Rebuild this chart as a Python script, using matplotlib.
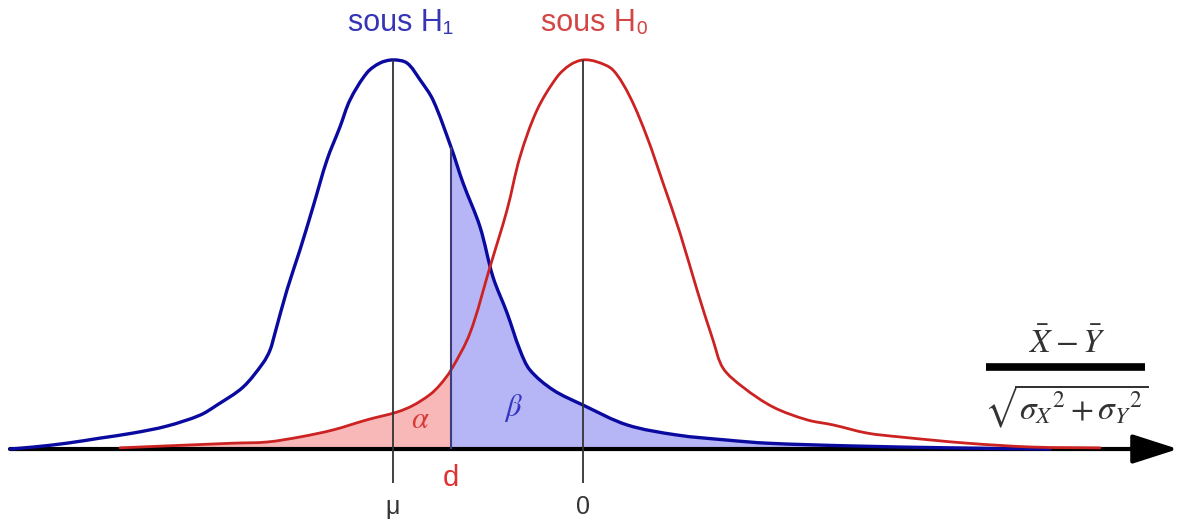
import matplotlib
matplotlib.use("Agg")
import matplotlib.pyplot as plt
import numpy as np
from matplotlib.patches import PathPatch
from matplotlib.path import Path

# curve under H1 (blue): x in test-statistic units, y as height (peak = 1)
blue_x = [-5.73, -5.50, -5.16, -4.83, -4.50, -4.16, -3.83, -3.66, -3.40, -3.20,
          -3.13, -3.08, -2.96, -2.83, -2.70, -2.56, -2.43, -2.33, -2.16, -2.03,
          -1.90, -1.76, -1.63, -1.50, -1.32, -1.20, -1.03, -0.90, -0.76, -0.63,
          -0.53, -0.30, 0.00, 0.44, 0.94, 1.44, 1.84, 2.67, 3.67, 4.67]
blue_y = [0.000, 0.005, 0.015, 0.028, 0.041, 0.059, 0.087, 0.113, 0.159, 0.221,
          0.254, 0.298, 0.409, 0.512, 0.622, 0.743, 0.828, 0.897, 0.967, 0.992,
          1.000, 0.992, 0.949, 0.897, 0.776, 0.684, 0.571, 0.442, 0.350, 0.254,
          0.203, 0.152, 0.113, 0.062, 0.036, 0.023, 0.015, 0.008, 0.003, 0.000]

# curve under H0 (red)
red_x = [-4.63, -3.50, -3.16, -2.83, -2.50, -2.16, -1.86, -1.70, -1.53, -1.43,
         -1.32, -1.13, -0.93, -0.76, -0.63, -0.46, -0.26, -0.13, 0.00, 0.14,
         0.30, 0.47, 0.64, 0.80, 0.97, 1.14, 1.30, 1.40, 1.60, 1.90,
         2.24, 2.50, 2.84, 3.17, 3.84, 4.50, 5.17]
red_y = [0.003, 0.015, 0.018, 0.031, 0.049, 0.075, 0.095, 0.112, 0.140, 0.165,
         0.203, 0.298, 0.468, 0.614, 0.751, 0.871, 0.956, 0.987, 1.000, 0.995,
         0.974, 0.905, 0.802, 0.684, 0.555, 0.409, 0.280, 0.208, 0.159, 0.108,
         0.075, 0.062, 0.041, 0.031, 0.015, 0.005, 0.003]

mu = -1.90
d = -1.32
zero = 0.0

plt.rcParams["mathtext.fontset"] = "stix"
SANS = ["Liberation Sans", "DejaVu Sans"]

# rough pixel scale of one data unit, used only to space the spline handles
SX, SY = 100.0, 389.0


def bezier_segments(x, y):
    """Smooth cubic segments passing through every read point."""
    p = np.column_stack([x, y]).astype(float)
    n = len(p)
    h = np.hypot(np.diff(p[:, 0]) * SX, np.diff(p[:, 1]) * SY)
    m = np.zeros_like(p)
    m[0] = (p[1] - p[0]) / h[0]
    m[-1] = (p[-1] - p[-2]) / h[-1]
    for i in range(1, n - 1):
        m[i] = (p[i + 1] - p[i - 1]) / (h[i - 1] + h[i])
    segs = []
    for i in range(n - 1):
        c1 = p[i] + m[i] * h[i] / 3
        c2 = p[i + 1] - m[i + 1] * h[i] / 3
        segs.append((p[i], c1, c2, p[i + 1]))
    return segs


def curve_path(segs, close=False):
    verts = [segs[0][0]]
    codes = [Path.MOVETO]
    for _, c1, c2, p1 in segs:
        verts += [c1, c2, p1]
        codes += [Path.CURVE4] * 3
    if close:
        verts += [(segs[-1][3][0], 0), (segs[0][0][0], 0), (0, 0)]
        codes += [Path.LINETO, Path.LINETO, Path.CLOSEPOLY]
    return Path(verts, codes)


blue_segs = bezier_segments(blue_x, blue_y)
red_segs = bezier_segments(red_x, red_y)
i_blue_d = int(np.argmin(np.abs(np.array(blue_x) - d)))
i_red_d = int(np.argmin(np.abs(np.array(red_x) - d)))

fig = plt.figure(figsize=(11.82, 5.21), dpi=100)
ax = fig.add_axes([0, 0, 1, 1])
ax.set_xlim(-5.83, 5.99)
ax.set_ylim(-0.185, 1.154)
ax.axis("off")

# shaded areas: alpha under H0 left of d, beta under H1 right of d
ax.add_patch(PathPatch(curve_path(red_segs[:i_red_d], close=True),
                       fc="#f8b8b8", ec="none", zorder=1))
ax.add_patch(PathPatch(curve_path(blue_segs[i_blue_d:], close=True),
                       fc="#b6b6f6", ec="none", zorder=1))

# horizontal axis with arrow
ax.annotate("", xy=(5.95, 0), xytext=(-5.73, 0),
            arrowprops=dict(arrowstyle="-|>,head_length=1.4,head_width=0.45",
                            mutation_scale=20, lw=3, color="black",
                            shrinkA=0, shrinkB=0), zorder=2)

ax.add_patch(PathPatch(curve_path(blue_segs), fill=False, ec="#0a0aa0",
                       lw=2.4, capstyle="round", joinstyle="round", zorder=3))
ax.add_patch(PathPatch(curve_path(red_segs), fill=False, ec="#cc2222",
                       lw=2.0, capstyle="round", joinstyle="round", zorder=3))

# vertical markers
ax.vlines([mu], -0.088, max(blue_y), color="#333333", lw=1.3, zorder=4)
ax.vlines([zero], -0.088, max(red_y), color="#333333", lw=1.3, zorder=4)
ax.vlines([d], 0, blue_y[i_blue_d], color="#3c3c7c", lw=1.5, zorder=4)

# labels
ax.text(mu + 0.08, 1.095, "sous H\u2081", color="#3535b5", fontsize=22,
        family=SANS, ha="center", va="center")
ax.text(zero + 0.12, 1.095, "sous H\u2080", color="#d24646", fontsize=22,
        family=SANS, ha="center", va="center")
ax.text(mu, -0.148, "\u03bc", color="#333333", fontsize=18, family=SANS,
        ha="center", va="center")
ax.text(zero, -0.148, "0", color="#333333", fontsize=18, family=SANS,
        ha="center", va="center")
ax.text(d, -0.075, "d", color="#e03030", fontsize=21, family=SANS,
        ha="center", va="center")
ax.text(-1.63, 0.075, r"$\alpha$", color="#d83a3a", fontsize=22, ha="center", va="center")
ax.text(-0.70, 0.105, r"$\beta$", color="#3535c0", fontsize=22, ha="center", va="center")

# statistic on the x axis
ax.text(4.84, 0.27, r"$\bar{X}-\bar{Y}$", color="#333333", fontsize=24,
        ha="center", va="center")
ax.plot([4.03, 5.62], [0.212, 0.212], color="black", lw=5.5, solid_capstyle="butt")
ax.text(4.83, 0.11, r"$\sqrt{\sigma_X{}^2+\sigma_Y{}^2}$", color="#333333",
        fontsize=24, ha="center", va="center")

fig.savefig("out.png", dpi=100, facecolor="white")
